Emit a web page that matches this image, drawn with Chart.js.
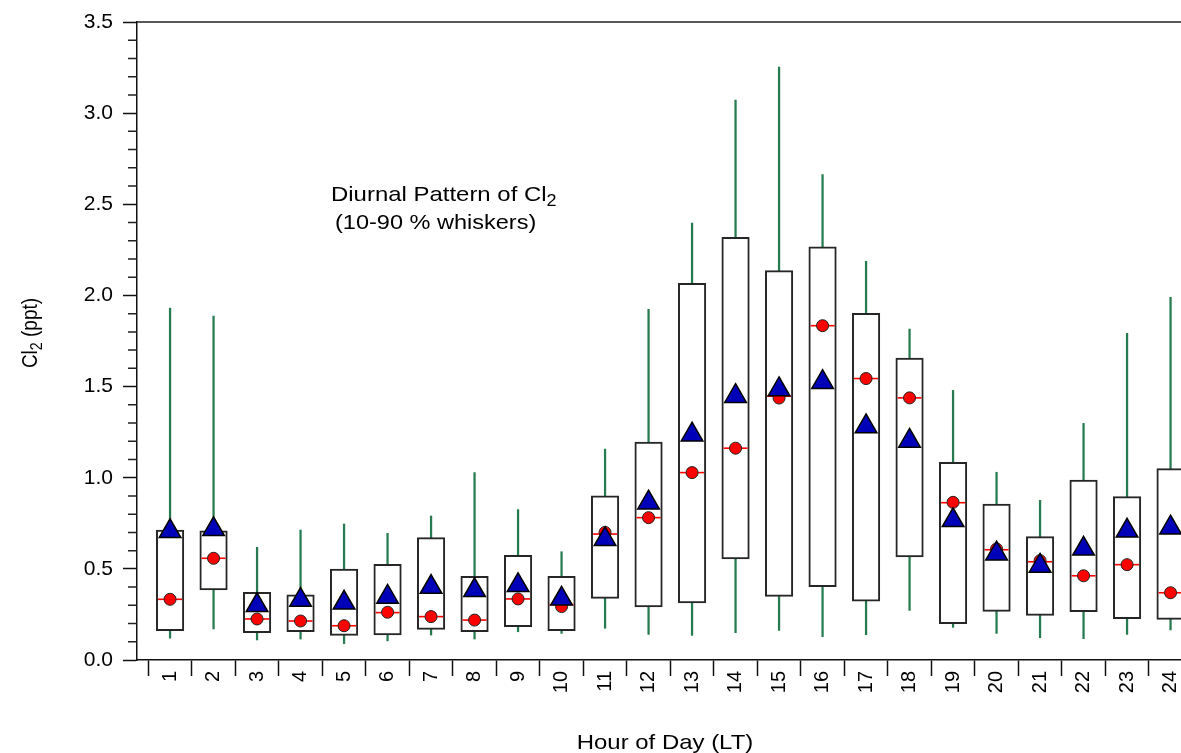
<!DOCTYPE html>
<html>
<head>
<meta charset="utf-8">
<script src="https://cdn.jsdelivr.net/npm/chart.js@4.4.0/dist/chart.umd.min.js"></script>
<style>
html, body { margin: 0; padding: 0; background: #fff; overflow: hidden; }
canvas { display: block; }
</style>
</head>
<body>
<canvas id="Chart" width="1181" height="753"></canvas>
<script>
'use strict';
//données (Cl2 en ppt, par heure locale)
const heures = [1, 2, 3, 4, 5, 6, 7, 8, 9, 10, 11, 12, 13, 14, 15, 16, 17, 18, 19, 20, 21, 22, 23, 24];
const p10 = [0.12, 0.17, 0.11, 0.115, 0.09, 0.105, 0.137, 0.115, 0.155, 0.146, 0.174, 0.141, 0.135, 0.15, 0.162, 0.128, 0.139, 0.272, 0.179, 0.146, 0.122, 0.117, 0.141, 0.165];
const p25 = [0.161, 0.384, 0.150, 0.155, 0.135, 0.137, 0.168, 0.155, 0.183, 0.161, 0.338, 0.291, 0.313, 0.554, 0.349, 0.402, 0.323, 0.565, 0.199, 0.267, 0.245, 0.265, 0.227, 0.223];
const mediane = [0.333, 0.558, 0.225, 0.214, 0.188, 0.26, 0.238, 0.219, 0.335, 0.304, 0.691, 0.781, 1.028, 1.162, 1.447, 1.834, 1.544, 1.438, 0.863, 0.605, 0.539, 0.462, 0.523, 0.369];
const p75 = [0.713, 0.708, 0.371, 0.358, 0.499, 0.525, 0.671, 0.459, 0.574, 0.459, 0.90, 1.196, 2.066, 2.319, 2.136, 2.266, 1.902, 1.656, 1.084, 0.856, 0.677, 0.987, 0.896, 1.05];
const p90 = [1.93, 1.887, 0.618, 0.713, 0.746, 0.695, 0.79, 1.028, 0.825, 0.594, 1.157, 1.924, 2.397, 3.071, 3.253, 2.663, 2.187, 1.815, 1.479, 1.03, 0.876, 1.298, 1.792, 1.99];
const cercles = [0.333, 0.558, 0.225, 0.214, 0.188, 0.262, 0.238, 0.219, 0.335, 0.293, 0.70, 0.781, 1.028, 1.162, 1.437, 1.834, 1.544, 1.438, 0.865, 0.609, 0.545, 0.462, 0.523, 0.369];
const triangles = [0.706, 0.717, 0.30, 0.329, 0.314, 0.346, 0.40, 0.382, 0.41, 0.336, 0.662, 0.863, 1.236, 1.447, 1.484, 1.524, 1.281, 1.202, 0.766, 0.583, 0.516, 0.61, 0.709, 0.726];
const ticksY = [0, 0.5, 1.0, 1.5, 2.0, 2.5, 3.0, 3.5];

const POLICE = '"Liberation Sans", Arial, sans-serif';

//petite fonction pour associer x et y
const points = vals => vals.map((v, i) => ({ x: heures[i], y: v }));
const plages = (bas, haut) => bas.map((v, i) => ({ x: heures[i], y: [v, haut[i]] }));

//texte avec indice, étiré en largeur comme l'original
function texte(ctx, morceaux, x, y, taille, opts = {}) {
    const { align = 'left', rot = 0, sx = 1, sy = 1 } = opts;
    ctx.save();
    ctx.translate(x, y);
    ctx.rotate(rot);
    ctx.scale(sx, sy);
    ctx.fillStyle = '#000';
    ctx.textBaseline = 'alphabetic';
    ctx.textAlign = 'left';
    let total = 0;
    morceaux.forEach(m => {
        ctx.font = (m.sub ? taille * 0.75 : taille) + 'px ' + POLICE;
        total += ctx.measureText(m.t).width;
    });
    let cx = align === 'center' ? -total / 2 : 0;
    morceaux.forEach(m => {
        ctx.font = (m.sub ? taille * 0.75 : taille) + 'px ' + POLICE;
        ctx.fillText(m.t, cx, m.sub ? taille * 0.22 : 0);
        cx += ctx.measureText(m.t).width;
    });
    ctx.restore();
}

//plugin pour le cadre du haut, les petites graduations et les textes
const pluginDeco = {
    id: 'deco',
    afterDraw(chart) {
        const { ctx, chartArea, scales } = chart;
        ctx.save();
        ctx.strokeStyle = '#222';
        ctx.lineWidth = 1.5;
        ctx.beginPath();
        ctx.moveTo(chartArea.left, chartArea.top);
        ctx.lineTo(chartArea.right, chartArea.top);
        ctx.stroke();
        //graduations mineures tous les 0.1
        ctx.beginPath();
        for (let k = 1; k < 35; k++) {
            if (k % 5 === 0) continue;
            const py = scales.y.getPixelForValue(k / 10);
            ctx.moveTo(chartArea.left - 9, py);
            ctx.lineTo(chartArea.left, py);
        }
        ctx.stroke();
        ctx.restore();

        texte(ctx, [{ t: 'Diurnal Pattern of Cl' }, { t: '2', sub: true }], 331, 201, 21, { sx: 1.14 });
        texte(ctx, [{ t: '(10-90 % whiskers)' }], 335, 229, 21, { sx: 1.12 });
        texte(ctx, [{ t: 'Hour of Day (LT)' }], 665, 749, 21, { align: 'center', sx: 1.14 });
        texte(ctx, [{ t: 'Cl' }, { t: '2', sub: true }, { t: ' (ppt)' }], 37, 333, 19, { align: 'center', rot: -Math.PI / 2, sy: 1.17 });
    }
};

function creerChart() {
    const ctx = document.getElementById('Chart').getContext('2d');
    new Chart(ctx, {
        type: 'bar',
        data: {
            datasets: [
                { type: 'bar', label: '10-90 %', data: plages(p10, p90), backgroundColor: '#267c50', borderWidth: 0, barThickness: 1.6, grouped: false, order: 5 },
                { type: 'bar', label: '25-75 %', data: plages(p25, p75), backgroundColor: '#ffffff', borderColor: '#262626', borderWidth: 2, borderSkipped: false, barThickness: 27.5, grouped: false, order: 4 },
                { type: 'scatter', label: 'médiane', data: points(mediane), pointStyle: 'line', pointRadius: 12, borderColor: '#ff0000', pointBorderWidth: 1.6, showLine: false, order: 3 },
                { type: 'scatter', label: 'cercles', data: points(cercles), pointStyle: 'circle', pointRadius: 6, backgroundColor: '#ff0000', borderColor: '#222', pointBorderWidth: 1, showLine: false, order: 2 },
                { type: 'scatter', label: 'triangles', data: points(triangles), pointStyle: 'triangle', pointRadius: 12.5, backgroundColor: '#0000b8', borderColor: '#000', pointBorderWidth: 1.5, showLine: false, order: 1 }
            ]
        },
        options: {
            responsive: false,
            devicePixelRatio: 1,
            animation: false,
            events: [],
            layout: { autoPadding: false, padding: { top: 22, left: 0, right: 0, bottom: 0 } },
            plugins: { legend: { display: false }, tooltip: { enabled: false } },
            scales: {
                x: {
                    type: 'linear',
                    min: 0.24,
                    max: 24.24,
                    offset: false,
                    afterBuildTicks: s => { s.ticks = heures.flatMap(h => [h - 0.5, h]).map(v => ({ value: v })); },
                    afterFit: s => { s.height = 93; s.paddingLeft = 0; s.paddingRight = 0; },
                    ticks: {
                        autoSkip: false,
                        minRotation: 90,
                        maxRotation: 90,
                        padding: -5,
                        color: '#000',
                        font: { family: POLICE, size: 20 },
                        callback: v => Number.isInteger(v) ? String(v) : ''
                    },
                    grid: {
                        offset: false,
                        drawOnChartArea: false,
                        tickLength: 16,
                        tickWidth: 1.5,
                        tickColor: c => (c.tick && Number.isInteger(c.tick.value)) ? 'rgba(0,0,0,0)' : '#111'
                    },
                    border: { color: '#111', width: 1.5 }
                },
                y: {
                    min: 0,
                    max: 3.5,
                    afterBuildTicks: s => { s.ticks = ticksY.map(v => ({ value: v })); },
                    afterFit: s => { s.width = 137; s.paddingTop = 0; s.paddingBottom = 0; },
                    ticks: {
                        padding: 10,
                        color: '#000',
                        font: { family: POLICE, size: 21 },
                        callback: v => v.toFixed(1)
                    },
                    grid: { drawOnChartArea: false, tickLength: 14, tickWidth: 1.5, tickColor: '#111' },
                    border: { color: '#111', width: 1.5 }
                }
            }
        },
        plugins: [pluginDeco]
    });
}

creerChart();
</script>
</body>
</html>
